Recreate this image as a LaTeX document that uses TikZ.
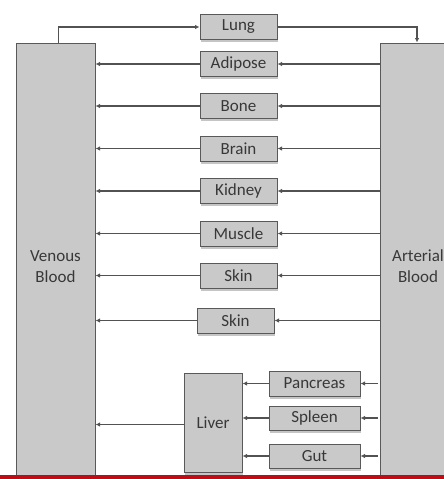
\documentclass[tikz,border=0pt]{standalone}
\usepackage{fontspec}
\setmainfont{Carlito}
\usetikzlibrary{shadows,arrows.meta,positioning}
\definecolor{barred}{RGB}{192,12,20}

\begin{document}
\begin{tikzpicture}[x=1pt,y=-1pt,
    organ/.style={draw=black!65, fill=black!21, line width=1pt,
        minimum width=77pt, minimum height=25pt, inner sep=0pt,
        drop shadow={shadow xshift=0.6pt, shadow yshift=-2.6pt, fill=black!45},
        font=\fontsize{17}{17}\selectfont, text=black!78},
    pool/.style={draw=black!65, fill=black!21, line width=1pt, inner sep=0pt,
        align=center, font=\fontsize{17}{21}\selectfont, text=black!78},
    flow/.style={draw=black!68, line width=1.2pt, -{Latex[length=4.5pt,width=4.5pt]}}]
    \useasboundingbox (0,0) rectangle (444,479);
    \clip (0,0) rectangle (444,479);

    % Blood pools
    \node[pool, minimum width=79pt, minimum height=447pt] (venous) at (55.5,266.5) {Venous\\Blood};
    \node[pool, minimum width=76pt, minimum height=447pt] (arterial) at (418,266.5) {Arterial\\Blood};

    % Organs
    \node[organ] (lung) at (238.5,27) {Lung};
    \node[organ] (adipose) at (238.5,64) {Adipose};
    \node[organ] (bone) at (238.5,106) {Bone};
    \node[organ] (brain) at (238.5,148.5) {Brain};
    \node[organ] (kidney) at (238.5,191) {Kidney};
    \node[organ] (muscle) at (238.5,233.5) {Muscle};
    \node[organ] (skin) at (238.5,275.5) {Skin};
    \node[organ] (skintwo) at (235.5,320.5) {Skin};

    % Splanchnic
    \node[organ, minimum width=58pt, minimum height=99pt] (liver) at (213,422.5) {Liver};
    \node[organ, minimum width=91pt, minimum height=25pt] (pancreas) at (314.5,383.5) {Pancreas};
    \node[organ, minimum width=91pt, minimum height=24pt] (spleen) at (314.5,418) {Spleen};
    \node[organ, minimum width=91pt, minimum height=24pt] (gut) at (314.5,456) {Gut};

    % Lung loop
    \draw[flow] ([xshift=3pt]venous.north) |- (lung.west);
    \draw[flow] (lung.east) -| ([xshift=-1pt]arterial.north);

    % Arterial -> organ -> venous
    \foreach \org in {adipose,bone,brain,kidney,muscle,skin,skintwo}{
        \draw[flow] (\org.east -| arterial.west) -- (\org.east);
        \draw[flow] (\org.west) -- (\org.west -| venous.east);
    }

    % Gut organs -> liver
    \foreach \org in {pancreas,spleen,gut}{
        \draw[flow] ([xshift=-2pt]\org.east -| arterial.west) -- (\org.east);
        \draw[flow] (\org.west) -- (\org.west -| liver.east);
    }
    \draw[flow] ([yshift=-2pt]liver.west) -- ([yshift=-2pt]liver.west -| venous.east);

    % Bottom bar
    \fill[barred] (0,475) rectangle (444,479);
\end{tikzpicture}
\end{document}
